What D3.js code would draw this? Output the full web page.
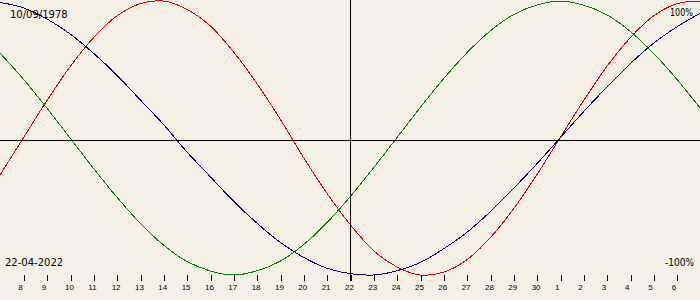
<!DOCTYPE html>
<html>
<head>
<meta charset="utf-8">
<script src="https://cdn.jsdelivr.net/npm/d3@7.9.0/dist/d3.min.js"></script>
<style>
  html, body { margin: 0; padding: 0; background: #f4f0e6; }
  svg { display: block; }
  text { font-family: "DejaVu Sans", sans-serif; fill: #000; }
</style>
</head>
<body>
<svg id="chart" width="700" height="300"></svg>
<script>
// day offsets around the selected date (22-04-2022)
const days = [-15, -14, -13, -12, -11, -10, -9, -8, -7, -6, -5, -4, -3, -2, -1,
              0, 1, 2, 3, 4, 5, 6, 7, 8, 9, 10, 11, 12, 13, 14, 15];

// physical (red)
const physical = [-0.27, 0, 0.27, 0.52, 0.73, 0.89, 0.98, 1.00, 0.94, 0.82, 0.63, 0.40, 0.14, -0.14, -0.40,
                  -0.63, -0.82, -0.94, -1.00, -0.98, -0.89, -0.73, -0.52, -0.27, 0, 0.27, 0.52, 0.73, 0.89, 0.98, 1.00];
// emotional (green)
const emotional = [0.62, 0.43, 0.22, 0, -0.22, -0.43, -0.62, -0.78, -0.90, -0.97, -1.00, -0.97, -0.90, -0.78, -0.62,
                   -0.43, -0.22, 0, 0.22, 0.43, 0.62, 0.78, 0.90, 0.97, 1.00, 0.97, 0.90, 0.78, 0.62, 0.43, 0.22];
// intellectual (blue)
const intellectual = [0.99, 0.95, 0.87, 0.76, 0.62, 0.46, 0.28, 0.10, -0.10, -0.28, -0.46, -0.62, -0.76, -0.87, -0.95,
                      -0.99, -1.00, -0.97, -0.91, -0.81, -0.69, -0.54, -0.37, -0.19, 0, 0.19, 0.37, 0.54, 0.69, 0.81, 0.91];

// tick labels: 8 April .. 6 May
const tickDays = [-14, -13, -12, -11, -10, -9, -8, -7, -6, -5, -4, -3, -2, -1, 0,
                  1, 2, 3, 4, 5, 6, 7, 8, 9, 10, 11, 12, 13, 14];
const tickLabels = ["8", "9", "10", "11", "12", "13", "14", "15", "16", "17", "18", "19", "20", "21", "22",
                    "23", "24", "25", "26", "27", "28", "29", "30", "1", "2", "3", "4", "5", "6"];

const birthDate = "10/09/1978";
const currentDate = "22-04-2022";

const width = 700, height = 300;
const svg = d3.select('#chart');

const x = d3.scaleLinear().domain([-15, 15]).range([0, width]);
const y = d3.scaleLinear().domain([-1, 1]).range([275, 1]);

const series = [
    { values: physical, color: '#e00000' },
    { values: emotional, color: '#008000' },
    { values: intellectual, color: '#000080' }
];

const line = d3.line()
    .x((d, i) => x(days[i]))
    .y(d => y(d))
    .curve(d3.curveCatmullRom);

svg.selectAll('path.curve')
    .data(series)
    .enter()
    .append('path')
    .attr('class', 'curve')
    .attr('d', d => line(d.values))
    .attr('fill', 'none')
    .attr('stroke', d => d.color)
    .attr('stroke-width', 1)
    .attr('shape-rendering', 'crispEdges');

// cross lines
svg.append('line')
    .attr('x1', 0).attr('x2', width)
    .attr('y1', 140.5).attr('y2', 140.5)
    .attr('stroke', '#000')
    .attr('shape-rendering', 'crispEdges');

svg.append('line')
    .attr('x1', x(0) + 0.5).attr('x2', x(0) + 0.5)
    .attr('y1', 0).attr('y2', 281)
    .attr('stroke', '#000')
    .attr('shape-rendering', 'crispEdges');

// day axis
const axis = d3.axisBottom(x)
    .tickValues(tickDays)
    .tickFormat((d, i) => tickLabels[i])
    .tickSize(6)
    .tickPadding(3);

const axisG = svg.append('g')
    .attr('transform', 'translate(0.5,275)')
    .call(axis);

axisG.select('.domain').remove();
axisG.selectAll('.tick line')
    .attr('stroke', '#000')
    .attr('shape-rendering', 'crispEdges');
axisG.selectAll('.tick text')
    .attr('text-anchor', 'start')
    .attr('x', -6)
    .attr('y', 15)
    .attr('dy', null)
    .style('font-family', '"Liberation Sans", sans-serif')
    .style('font-size', '8px')
    .attr('fill', '#000');

// corner texts
svg.append('text')
    .attr('x', 10).attr('y', 18)
    .style('font-size', '10px')
    .text(birthDate);

svg.append('text')
    .attr('x', 5).attr('y', 266)
    .style('font-size', '10px')
    .text(currentDate);

svg.append('text')
    .attr('x', 670).attr('y', 16)
    .attr('textLength', 23)
    .attr('lengthAdjust', 'spacingAndGlyphs')
    .style('font-size', '10px')
    .text('100%');

svg.append('text')
    .attr('x', 665).attr('y', 266)
    .attr('textLength', 29)
    .attr('lengthAdjust', 'spacingAndGlyphs')
    .style('font-size', '10px')
    .text('-100%');
</script>
</body>
</html>
